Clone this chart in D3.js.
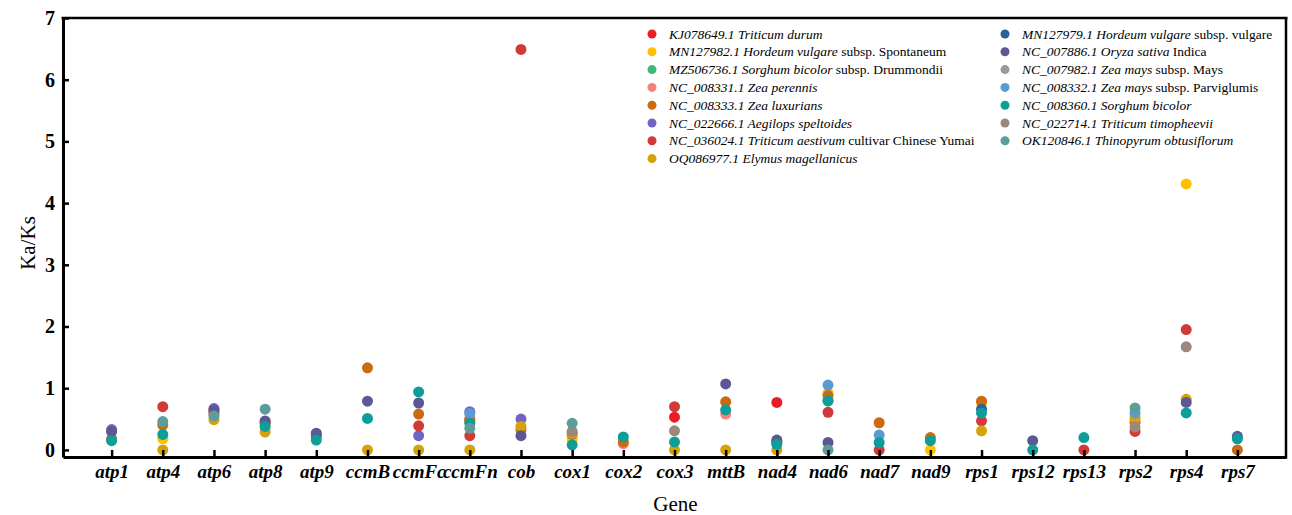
<!DOCTYPE html>
<html>
<head>
<meta charset="utf-8">
<script src="https://cdn.jsdelivr.net/npm/d3@7"></script>
<style>
  body { margin: 0; background: #fff; }
  svg text { font-family: "Liberation Serif", "Times New Roman", serif; }
</style>
</head>
<body>
<div id="chart"></div>
<script>
(function(){
  'use strict';

  // genes on the x axis
  var genes = ["atp1","atp4","atp6","atp8","atp9","ccmB","ccmFc","ccmFn","cob","cox1","cox2","cox3",
               "mttB","nad4","nad6","nad7","nad9","rps1","rps12","rps13","rps2","rps4","rps7"];
  var yTicks = [0, 1, 2, 3, 4, 5, 6, 7];

  // Ka/Ks per genome, same order as genes (null = no point shown)
  var kj078649 = [null,null,null,null,null,null,null,0.50,null,null,null,0.53,null,0.77,null,null,null,null,null,null,null,null,null];
  var mn127982 = [null,0.18,null,null,null,null,null,null,null,0.17,null,null,null,null,0.92,null,0.00,0.76,null,null,0.55,4.31,null];
  var mz506736 = [null,null,null,null,null,null,null,null,null,null,null,null,null,null,0.79,null,null,null,null,null,null,null,null];
  var nc008331 = [null,null,null,null,null,null,null,0.48,null,null,0.10,null,0.58,null,null,null,null,null,null,null,null,null,null];
  var nc008333 = [0.18,0.40,0.58,0.42,0.22,1.33,0.58,0.47,0.33,0.25,0.13,null,0.78,0.14,0.88,0.44,0.20,0.79,null,null,0.45,null,0.00];
  var nc022666 = [0.33,null,0.67,null,null,null,0.23,0.62,0.50,null,null,null,null,null,null,null,null,null,null,null,null,null,null];
  var nc036024 = [null,0.70,0.62,0.45,0.24,null,0.39,0.23,6.49,null,null,0.70,null,0.12,0.61,0.00,null,0.47,null,0.00,0.30,1.95,null];
  var oq086977 = [null,0.00,0.49,0.29,null,0.00,0.00,0.00,0.38,0.27,null,0.00,0.00,0.00,null,null,null,0.31,null,null,0.51,0.82,null];
  var mn127979 = [null,null,null,null,null,null,null,null,null,null,null,null,null,null,null,null,null,0.66,null,null,null,null,null];
  var nc007886 = [0.30,null,0.65,0.47,0.27,0.79,0.76,null,0.23,null,null,null,1.07,0.16,0.12,null,null,null,0.15,null,null,0.77,0.22];
  var nc007982 = [null,null,null,null,null,null,null,null,null,null,null,null,null,null,null,null,null,null,null,null,null,null,null];
  var nc008332 = [null,null,null,null,null,null,null,0.59,null,null,null,null,null,null,1.05,0.24,null,null,null,null,0.60,null,null];
  var nc008360 = [0.15,0.25,null,0.38,0.16,0.51,0.94,0.43,null,0.08,0.21,0.13,0.65,0.09,0.80,0.12,0.15,0.60,0.00,0.20,null,0.60,0.18];
  var nc022714 = [null,null,null,null,null,null,null,null,null,0.30,null,0.31,null,null,null,null,null,null,null,null,0.37,1.67,null];
  var ok120846 = [null,0.46,0.55,0.66,null,null,null,0.35,null,0.43,null,null,null,null,0.00,null,null,null,null,null,0.68,null,null];

  // legend text: accession, species (italic), remainder (roman)
  var accessions = ["KJ078649.1","MN127982.1","MZ506736.1","NC_008331.1","NC_008333.1","NC_022666.1","NC_036024.1","OQ086977.1",
                    "MN127979.1","NC_007886.1","NC_007982.1","NC_008332.1","NC_008360.1","NC_022714.1","OK120846.1"];
  var species = ["Triticum durum","Hordeum vulgare","Sorghum bicolor","Zea perennis","Zea luxurians","Aegilops speltoides","Triticum aestivum","Elymus magellanicus",
                 "Hordeum vulgare","Oryza sativa","Zea mays","Zea mays","Sorghum bicolor","Triticum timopheevii","Thinopyrum obtusiflorum"];
  var suffixes = [""," subsp. Spontaneum"," subsp. Drummondii","","",""," cultivar Chinese Yumai","",
                  " subsp. vulgare"," Indica"," subsp. Mays"," subsp. Parviglumis","","",""];
  var colors = ["#ec1c24","#ffc000","#3cb878","#f4817c","#cc6a10","#7264c4","#d23a3a","#d4a20a",
                "#2d5f9e","#5c5894","#9a9a9a","#5b9bd5","#0e9e9a","#9c877c","#5e9c98"];

  var seriesValues = [kj078649,mn127982,mz506736,nc008331,nc008333,nc022666,nc036024,oq086977,
                      mn127979,nc007886,nc007982,nc008332,nc008360,nc022714,ok120846];

  var width = 1292, height = 515;
  var left = 63, right = 1286, top = 18, bottom = 457;

  var svg = d3.select("#chart").append("svg")
    .attr("width", width)
    .attr("height", height);

  var x = d3.scalePoint().domain(genes).range([left, right]).padding(0.95);
  var y = d3.scaleLinear().domain([-0.115, 7]).range([bottom, top]);

  // points
  var points = [];
  seriesValues.forEach(function(vals, s){
    vals.forEach(function(v, i){
      if (v !== null) points.push({ gene: genes[i], value: v, s: s });
    });
  });

  svg.append("g").selectAll("circle")
    .data(points)
    .enter().append("circle")
    .attr("cx", function(d){ return x(d.gene); })
    .attr("cy", function(d){ return y(d.value); })
    .attr("r", 5.5)
    .attr("fill", function(d){ return colors[d.s]; });

  // axes, ticks pointing inwards
  var yAxis = svg.append("g")
    .attr("transform", "translate(" + left + ",0)")
    .call(d3.axisLeft(y).tickValues(yTicks).tickFormat(d3.format("d"))
      .tickSizeInner(-6).tickSizeOuter(0).tickPadding(8));
  yAxis.select(".domain").attr("stroke", "#000").attr("stroke-width", 3);
  yAxis.selectAll(".tick line").attr("stroke", "#000").attr("stroke-width", 2.5);
  yAxis.selectAll(".tick text")
    .attr("font-size", 20).attr("font-weight", "bold")
    .attr("font-family", "Liberation Serif, serif").attr("fill", "#000");

  var xAxis = svg.append("g")
    .attr("transform", "translate(0," + bottom + ")")
    .call(d3.axisBottom(x).tickSizeInner(-7).tickSizeOuter(0).tickPadding(8));
  xAxis.select(".domain").attr("stroke", "#000").attr("stroke-width", 3);
  xAxis.selectAll(".tick line").attr("stroke", "#000").attr("stroke-width", 2.5);
  xAxis.selectAll(".tick text")
    .attr("font-size", 19).attr("font-weight", "bold").attr("font-style", "italic")
    .attr("font-family", "Liberation Serif, serif").attr("fill", "#000");

  // frame top and right
  svg.append("line").attr("x1", left - 1.5).attr("x2", right + 1.5).attr("y1", top).attr("y2", top)
    .attr("stroke", "#000").attr("stroke-width", 2.5);
  svg.append("line").attr("x1", right).attr("x2", right).attr("y1", top).attr("y2", bottom + 1.5)
    .attr("stroke", "#000").attr("stroke-width", 2.5);

  // axis titles
  svg.append("text")
    .attr("x", (left + right) / 2 + 1).attr("y", 511)
    .attr("text-anchor", "middle").attr("font-size", 21)
    .text("Gene");
  svg.append("text")
    .attr("transform", "translate(35,243) rotate(-90)")
    .attr("text-anchor", "middle").attr("font-size", 21)
    .text("Ka/Ks");

  // legend, two columns
  var legend = svg.append("g");
  accessions.forEach(function(acc, i){
    var col = i < 8 ? 0 : 1;
    var row = col === 0 ? i : i - 8;
    var dotX = col === 0 ? 652 : 1005;
    var yy = 34 + row * 17.8;
    legend.append("circle").attr("cx", dotX).attr("cy", yy).attr("r", 4.5).attr("fill", colors[i]);
    var t = legend.append("text")
      .attr("x", dotX + 17).attr("y", yy + 4.5)
      .attr("font-size", 13.5);
    t.append("tspan").attr("font-style", "italic").text(acc + " ");
    t.append("tspan").attr("font-style", "italic").text(species[i]);
    if (suffixes[i]) t.append("tspan").text(suffixes[i]);
  });

})();
</script>
</body>
</html>
